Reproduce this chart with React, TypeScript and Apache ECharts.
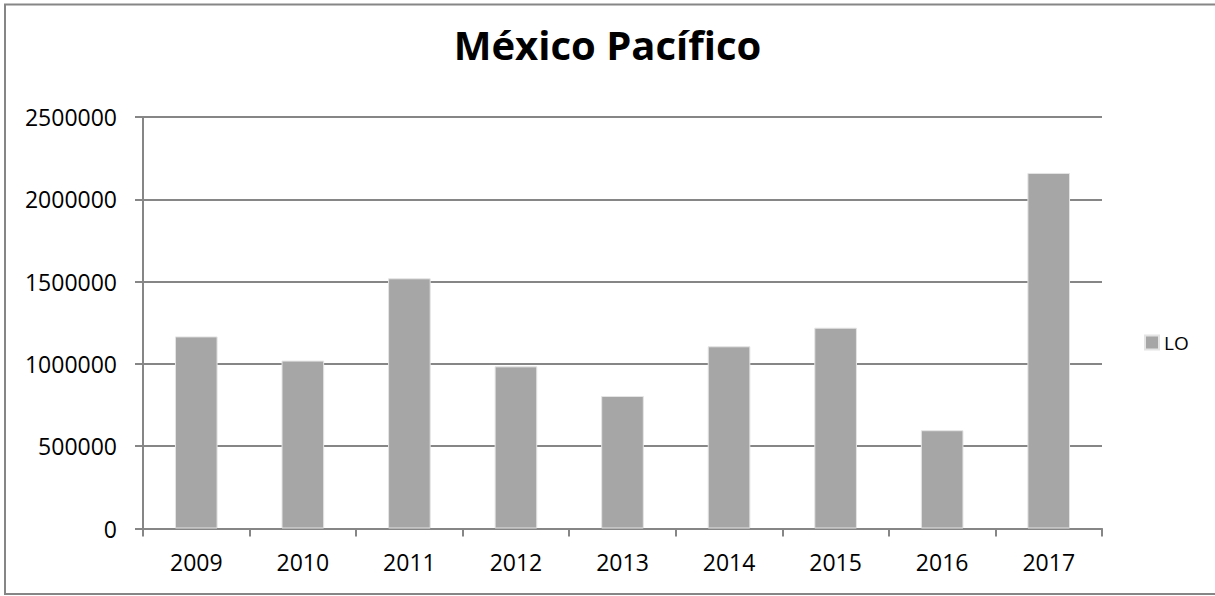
import React, { useEffect, useRef } from "react";
import * as echarts from "echarts";

const titleText = "México Pacífico";
const seriesName = "LO";
const categories = ["2009", "2010", "2011", "2012", "2013", "2014", "2015", "2016", "2017"];
const values = [1167000, 1020000, 1520000, 985000, 805000, 1107000, 1220000, 597000, 2160000];
const yMin = 0;
const yMax = 2500000;
const yInterval = 500000;

const FONT = "'Open Sans', 'Liberation Sans', sans-serif";
const GRID_COLOR = "#868686";
const BAR_COLOR = "#a6a6a6";

export default function App() {
  const ref = useRef<HTMLDivElement>(null);
  useEffect(() => {
    if (!ref.current) return;
    const chart = echarts.init(ref.current, undefined, { renderer: "svg" });
    chart.setOption({
      animation: false,
      backgroundColor: "#ffffff",
      title: {
        text: titleText,
        left: "center",
        top: 19,
        textStyle: { fontFamily: FONT, fontWeight: "bold", fontSize: 40, color: "#000" },
      },
      graphic: [
        {
          type: "rect",
          shape: { x: 5, y: 4.5, width: 1230, height: 589.5 },
          style: { fill: "none", stroke: GRID_COLOR, lineWidth: 2 },
          silent: true,
        },
      ],
      legend: {
        data: [seriesName],
        left: 1144,
        top: 333,
        padding: 0,
        orient: "vertical",
        icon: "rect",
        itemWidth: 14,
        itemHeight: 14,
        textStyle: { fontFamily: FONT, fontSize: 19, color: "#000" },
      },
      grid: { left: 143, right: 113, top: 117, bottom: 67.5, containLabel: false },
      xAxis: {
        type: "category",
        data: categories,
        axisLine: { show: true, lineStyle: { color: GRID_COLOR, width: 2 } },
        axisTick: { show: true, length: 8, inside: false, alignWithLabel: false, lineStyle: { color: GRID_COLOR, width: 2 } },
        axisLabel: { fontFamily: FONT, fontSize: 23, color: "#000", margin: 22 },
        splitLine: { show: false },
      },
      yAxis: {
        type: "value",
        min: yMin,
        max: yMax,
        interval: yInterval,
        axisLine: { show: true, lineStyle: { color: GRID_COLOR, width: 2 } },
        axisTick: { show: true, length: 8, lineStyle: { color: GRID_COLOR, width: 2 } },
        axisLabel: {
          fontFamily: FONT,
          fontSize: 23,
          color: "#000",
          margin: 26,
          formatter: (v: number) => String(v),
        },
        splitLine: { show: true, lineStyle: { color: GRID_COLOR, width: 2 } },
      },
      series: [
        {
          name: seriesName,
          type: "bar",
          data: values,
          barCategoryGap: "60%",
          itemStyle: { color: BAR_COLOR, borderColor: "#e4e4e4", borderWidth: 1 },
        },
      ],
    });
    return () => chart.dispose();
  }, []);
  return (
    <div
      ref={ref}
      style={{ position: "fixed", left: 0, top: 0, width: 1215, height: 596 }}
    />
  );
}
